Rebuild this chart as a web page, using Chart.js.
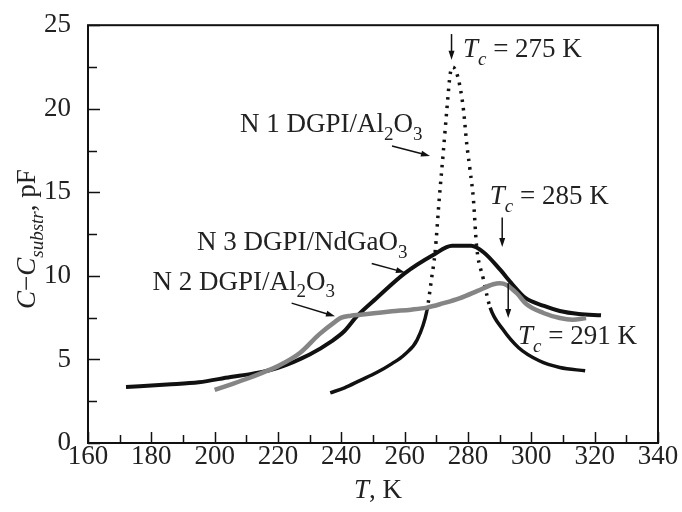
<!DOCTYPE html>
<html>
<head>
<meta charset="utf-8">
<script src="https://cdn.jsdelivr.net/npm/chart.js@4.4.0/dist/chart.umd.min.js"></script>
<style>
  html, body { margin: 0; padding: 0; background: #fff; }
  #wrap { width: 682px; height: 512px; }
</style>
</head>
<body>
<div id="wrap"><canvas id="chart" width="682" height="512"></canvas></div>
<script>
// N 1 DGPI/Al2O3 (dotted peak)
const n1T = [236.5, 241, 246, 251, 256, 260, 264, 267, 268.5, 269.6, 271, 272.2, 273.3, 274.4, 275.2, 276.3, 277.5, 278.6, 279.6, 280.6, 281.7, 282.7, 284.8, 287, 291, 296, 302.5, 309, 317];
const n1C = [3.0, 3.3, 3.75, 4.2, 4.75, 5.3, 6.2, 7.9, 9.85, 11.4, 14.8, 17.4, 19.9, 22.1, 22.5, 22.2, 21.3, 19.9, 17.9, 16.4, 14.6, 11.8, 9.85, 8.1, 6.8, 5.7, 4.92, 4.52, 4.32];

// N 2 DGPI/Al2O3 (grey)
const n2T = [200, 205, 210, 215, 220, 227, 233, 238, 240, 243, 246, 251, 256, 262, 267, 272, 277.5, 283, 288, 290, 292.2, 295.4, 298.5, 303.8, 309, 313, 317.3];
const n2C = [3.18, 3.5, 3.83, 4.2, 4.6, 5.4, 6.5, 7.25, 7.5, 7.62, 7.68, 7.78, 7.88, 7.98, 8.1, 8.35, 8.67, 9.1, 9.5, 9.56, 9.46, 8.96, 8.3, 7.78, 7.48, 7.38, 7.48];

// N 3 DGPI/NdGaO3 (thick black)
const n3T = [172, 185, 195, 205, 212, 220, 230, 237, 241, 245, 251, 260, 269, 275, 281, 285, 290, 294, 298, 304, 309, 315, 322];
const n3C = [3.35, 3.5, 3.63, 3.95, 4.15, 4.5, 5.3, 6.1, 6.7, 7.6, 8.65, 10.15, 11.25, 11.8, 11.8, 11.4, 10.4, 9.5, 8.7, 8.2, 7.9, 7.72, 7.64];

const xTicks = [160, 180, 200, 220, 240, 260, 280, 300, 320, 340];
const yTicks = [0, 5, 10, 15, 20, 25];

const FONT = "'Liberation Serif', serif";
const FS = 27;

// labels and arrows, placed in data units (T, C)
const labels = [
  { T: 278.4, C: 23.1, parts: [['T', 'i'], ['c', 'is'], [' = 275 K']] },
  { T: 208.0, C: 18.6, parts: [['N 1 DGPI/Al'], ['2', 's'], ['O'], ['3', 's']] },
  { T: 286.9, C: 14.3, parts: [['T', 'i'], ['c', 'is'], [' = 285 K']] },
  { T: 194.4, C: 11.55, parts: [['N 3 DGPI/NdGaO'], ['3', 's']] },
  { T: 180.4, C: 9.16, parts: [['N 2 DGPI/Al'], ['2', 's'], ['O'], ['3', 's']] },
  { T: 295.8, C: 5.9, parts: [['T', 'i'], ['c', 'is'], [' = 291 K']] }
];
const arrows = [
  [274.8, 24.47, 274.8, 22.93],
  [256.0, 17.77, 268.0, 17.18],
  [290.8, 13.5, 290.8, 11.73],
  [249.6, 10.74, 260.1, 10.2],
  [224.3, 8.37, 238.0, 7.58],
  [292.7, 9.56, 292.7, 7.48]
];

function pts(t, c) {
  return t.map((x, i) => ({ x: x, y: c[i] }));
}

function fontFor(style, size) {
  const it = style && style.indexOf('i') >= 0;
  const sub = style && style.indexOf('s') >= 0;
  return (it ? 'italic ' : '') + Math.round(sub ? size * 0.72 : size) + 'px ' + FONT;
}

// draws text made of parts [text, style], style: i = italic, s = subscript
function drawRich(ctx, x, y, parts, size, align) {
  let total = 0;
  parts.forEach(p => { ctx.font = fontFor(p[1], size); total += ctx.measureText(p[0]).width; });
  let cx = align === 'center' ? x - total / 2 : x;
  ctx.textBaseline = 'alphabetic';
  ctx.textAlign = 'left';
  parts.forEach(p => {
    ctx.font = fontFor(p[1], size);
    const sub = p[1] && p[1].indexOf('s') >= 0;
    ctx.fillText(p[0], cx, sub ? y + size * 0.28 : y);
    cx += ctx.measureText(p[0]).width;
  });
}

function arrow(ctx, x1, y1, x2, y2) {
  const a = Math.atan2(y2 - y1, x2 - x1);
  const len = 9, w = 3;
  ctx.beginPath();
  ctx.moveTo(x1, y1);
  ctx.lineTo(x2 - Math.cos(a) * len * 0.6, y2 - Math.sin(a) * len * 0.6);
  ctx.lineWidth = 1.5;
  ctx.stroke();
  ctx.beginPath();
  ctx.moveTo(x2, y2);
  ctx.lineTo(x2 - Math.cos(a) * len - Math.sin(a) * w, y2 - Math.sin(a) * len + Math.cos(a) * w);
  ctx.lineTo(x2 - Math.cos(a) * len + Math.sin(a) * w, y2 - Math.sin(a) * len - Math.cos(a) * w);
  ctx.closePath();
  ctx.fill();
}

const decor = {
  id: 'decor',
  afterDraw(chart) {
    const ctx = chart.ctx;
    const area = chart.chartArea;
    const xs = chart.scales.x, ys = chart.scales.y;
    ctx.save();
    ctx.strokeStyle = '#111';
    ctx.fillStyle = '#111';

    // frame
    ctx.lineWidth = 2;
    ctx.strokeRect(area.left, area.top, area.right - area.left, area.bottom - area.top);

    // inward ticks, major and minor
    ctx.lineWidth = 1.5;
    ctx.beginPath();
    for (let v = 160; v <= 340; v += 10) {
      const px = Math.round(xs.getPixelForValue(v)) + 0.5;
      const l = v % 20 === 0 ? 11 : 8;
      ctx.moveTo(px, area.bottom);
      ctx.lineTo(px, area.bottom - l);
    }
    for (let v = 0; v <= 25; v += 2.5) {
      const py = Math.round(ys.getPixelForValue(v)) + 0.5;
      const l = v % 5 === 0 ? 12 : 9;
      ctx.moveTo(area.left, py);
      ctx.lineTo(area.left + l, py);
    }
    ctx.stroke();

    // axis titles
    ctx.fillStyle = '#222';
    drawRich(ctx, (area.left + area.right) / 2 + 5, 498, [['T', 'i'], [', K']], FS, 'center');
    ctx.save();
    ctx.translate(35, (area.top + area.bottom) / 2 + 5);
    ctx.rotate(-Math.PI / 2);
    drawRich(ctx, 0, 0, [['C', 'i'], ['\u2212'], ['C', 'i'], ['substr', 'is'], [', pF']], FS, 'center');
    ctx.restore();

    // annotation texts
    labels.forEach(lb => {
      drawRich(ctx, xs.getPixelForValue(lb.T), ys.getPixelForValue(lb.C), lb.parts, FS, 'left');
    });

    // arrows
    ctx.strokeStyle = '#111';
    ctx.fillStyle = '#111';
    arrows.forEach(a => {
      arrow(ctx, xs.getPixelForValue(a[0]), ys.getPixelForValue(a[1]),
                 xs.getPixelForValue(a[2]), ys.getPixelForValue(a[3]));
    });
    ctx.restore();
  }
};

const dotted = ctx => (ctx.p0.parsed.y > 9 || ctx.p1.parsed.y > 9) ? [2.5, 6] : undefined;

function draw() {
  new Chart(document.getElementById('chart'), {
    type: 'line',
    data: {
      datasets: [
        {
          label: 'N 2 outline',
          data: pts(n2T, n2C),
          borderColor: '#858585',
          borderWidth: 4.5,
          pointRadius: 0,
          cubicInterpolationMode: 'monotone'
        },
        {
          label: 'N 2 DGPI/Al2O3',
          data: pts(n2T, n2C),
          borderColor: '#f0f0f0',
          borderWidth: 1.6,
          pointRadius: 0,
          cubicInterpolationMode: 'monotone'
        },
        {
          label: 'N 3 DGPI/NdGaO3',
          data: pts(n3T, n3C),
          borderColor: '#111',
          borderWidth: 4,
          pointRadius: 0,
          cubicInterpolationMode: 'monotone'
        },
        {
          label: 'N 1 DGPI/Al2O3',
          data: pts(n1T, n1C),
          borderColor: '#111',
          borderWidth: 3.5,
          pointRadius: 0,
          cubicInterpolationMode: 'monotone',
          segment: { borderDash: dotted }
        }
      ]
    },
    options: {
      responsive: false,
      animation: false,
      layout: { padding: { left: 0, top: 21, right: 24, bottom: 0 } },
      plugins: { legend: { display: false }, tooltip: { enabled: false } },
      scales: {
        x: {
          type: 'linear',
          min: 160,
          max: 340,
          afterBuildTicks: s => { s.ticks = xTicks.map(v => ({ value: v })); },
          afterFit: s => { s.height = 69; },
          grid: { display: false },
          border: { display: false },
          ticks: { color: '#222', padding: -10, maxRotation: 0, autoSkip: false, font: { family: FONT, size: FS } }
        },
        y: {
          min: 0,
          max: 25,
          afterBuildTicks: s => { s.ticks = yTicks.map(v => ({ value: v })); },
          afterFit: s => { s.width = 88; },
          grid: { display: false },
          border: { display: false },
          ticks: { color: '#222', padding: 9, font: { family: FONT, size: FS } }
        }
      }
    },
    plugins: [decor]
  });
}

document.fonts.load(FS + "px 'Liberation Serif'").then(draw, draw);
</script>
</body>
</html>
